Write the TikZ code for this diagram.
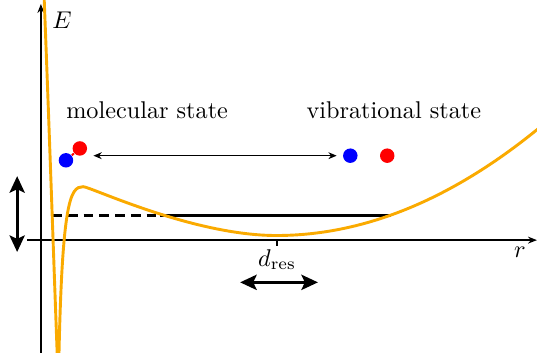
\documentclass[tikz,border=0pt]{standalone}
\usepackage{amsmath,amssymb}
\usepackage{tikz}
\usetikzlibrary{arrows.meta,positioning,calc}
\usepackage{xcolor}
\definecolor{potorange}{RGB}{250,170,0}

\begin{document}
\begin{tikzpicture}[scale=0.957, >=Stealth,
    atom/.style={circle,inner sep=0pt,minimum size=2.1mm},
    axisline/.style={semithick,-{Stealth[length=1.3mm,width=1mm]}},
    bigarrow/.style={very thick,{Stealth[length=2.4mm,width=2.2mm,inset=0.5mm]}-{Stealth[length=2.4mm,width=2.2mm,inset=0.5mm]}}]
    \useasboundingbox (-0.62,-1.70) rectangle (7.52,3.64);

    % --- Axes ---
    \coordinate (yfoot) at (0,-1.8);
    \coordinate (ytop) at (0,3.58);
    \coordinate (xfoot) at (-0.21,0);
    \coordinate (xtip) at (7.52,0);
    \draw[axisline] (yfoot) -- (ytop);
    \draw[axisline] (xfoot) -- (xtip);
    \node (elabel) at (0.32,3.33) {$E$};
    \node (rlabel) at (7.26,-0.18) {$r$};

    % d_res tick and label
    \coordinate (dtick) at (3.58,0);
    \draw[semithick] (dtick) -- ++(0,-0.09) node[below,inner sep=1pt] (dres) {$d_{\text{res}}$};

    % --- Level line (dashed under the barrier) ---
    \coordinate (lvlL) at (0.17,0.38);
    \coordinate (lvlM) at (1.80,0.38);
    \coordinate (lvlR) at (5.30,0.38);
    \draw[very thick,dash pattern=on 4pt off 2.5pt] (lvlL) -- (lvlM);
    \draw[very thick] (lvlM) -- (lvlR);

    % --- Double arrows ---
    \coordinate (vtop) at (-0.36,0.97);
    \coordinate (vbot) at (-0.36,-0.18);
    \draw[bigarrow] (vtop) -- (vbot);
    \coordinate (hleft) at (3.02,-0.64);
    \coordinate (hright) at (4.20,-0.64);
    \draw[bigarrow] (hleft) -- (hright);

    % --- Molecule and free atoms ---
    \node[atom,fill=blue] (molB) at (0.38,1.21) {};
    \node[atom,fill=red] (molR) at (0.59,1.39) {};
    \draw[red,thick] (molB) -- (molR);
    \node[atom,fill=blue] (vibB) at (4.69,1.28) {};
    \node[atom,fill=red] (vibR) at (5.25,1.28) {};
    \draw[{Stealth[length=1.2mm,width=1mm]}-{Stealth[length=1.2mm,width=1mm]}]
        ([xshift=0.9mm]molR.east |- vibB.west) -- ([xshift=-0.9mm]vibB.west);

    \node (molLabel) at (1.61,1.97) {molecular state};
    \node (vibLabel) at (5.35,1.97) {vibrational state};

    % --- Potential curve ---
    \begin{scope}
        \clip (-0.62,-1.70) rectangle (7.52,3.64);
        \draw[potorange,very thick]
            (0.04,3.9) .. controls (0.12,1.9) and (0.2,-0.5) .. (0.265,-2.2)
            .. controls (0.31,0.6) and (0.44,0.81) .. (0.64,0.81)
            .. controls (0.75,0.81) and (2.3,0.07) .. (3.57,0.07)
            .. controls (4.913,0.07) and (6.257,0.627) .. (7.6,1.74);
    \end{scope}
\end{tikzpicture}
\end{document}
